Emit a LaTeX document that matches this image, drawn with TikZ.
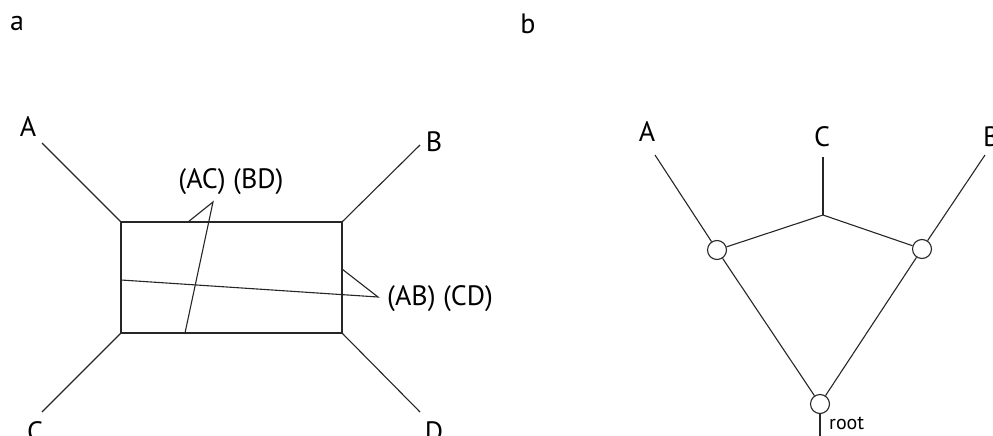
\documentclass[tikz,border=0pt]{standalone}
\usepackage{fontspec}
\setmainfont{PT Sans}
\begin{document}
\begin{tikzpicture}[x=1pt,y=-1pt,
  edge/.style={line width=1.1pt,black!85},
  lbl/.style={font=\fontsize{28}{32}\selectfont,inner sep=0pt},
  small/.style={font=\fontsize{20}{24}\selectfont,inner sep=0pt},
  vert/.style={circle,draw,line width=1.1pt,black!85,fill=white,minimum size=19pt,inner sep=0pt}]
\useasboundingbox (0,0) rectangle (993,436);
% panel labels
\node[lbl] (pa) at (17,24) {a};
\node[lbl] (pb) at (528,24) {b};
% ---- panel a ----
\coordinate (tl) at (121,222);
\coordinate (tr) at (342,222);
\coordinate (bl) at (121,333);
\coordinate (br) at (342,333);
\node[lbl] (A1) at (28,127) {A};
\node[lbl] (B1) at (434,142) {B};
\node[lbl] (C1) at (35,432) {C};
\node[lbl] (D1) at (434,432) {D};
\coordinate (a1) at (42,143);
\coordinate (b1) at (420,145);
\coordinate (c1) at (42,412);
\coordinate (d1) at (420,412);
\draw[edge] (tl) rectangle (br);
\draw[edge] (a1) -- (tl);
\draw[edge] (b1) -- (tr);
\draw[edge] (c1) -- (bl);
\draw[edge] (d1) -- (br);
% split lines
\coordinate (s1) at (121,280);
\coordinate (p1) at (378,297);
\coordinate (s2) at (342,269);
\coordinate (p2) at (213,202);
\coordinate (t1) at (188,222);
\coordinate (t2) at (185,333);
\draw[edge] (s1) -- (p1) -- (s2);
\draw[edge] (t1) -- (p2) -- (t2);
\node[lbl] (acbd) at (231,182) {(AC) (BD)};
\node[lbl,anchor=west] (abcd) at (387,299) {(AB) (CD)};
% ---- panel b ----
\node[lbl] (A2) at (647,132) {A};
\node[lbl] (C2) at (822,137) {C};
\node[lbl,anchor=west] (B2) at (983,137) {B};
\coordinate (a2) at (655,155);
\coordinate (c2) at (823,157);
\coordinate (b2) at (985,155);
\coordinate (j) at (823,215);
\node[vert] (vl) at (717,250) {};
\node[vert] (vr) at (922,249) {};
\node[vert] (vroot) at (820,404) {};
\coordinate (rend) at (820,436);
\draw[edge] (a2) -- (vl);
\draw[edge] (b2) -- (vr);
\draw[edge] (c2) -- (j);
\draw[edge] (vl) -- (j) -- (vr);
\draw[edge] (vl) -- (vroot);
\draw[edge] (vr) -- (vroot);
\draw[edge] (vroot) -- (rend);
\node[small,anchor=west] (rootlbl) at (829,423) {root};
\end{tikzpicture}
\end{document}
